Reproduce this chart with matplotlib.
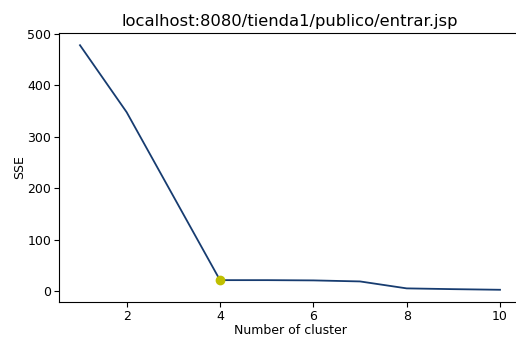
import matplotlib

matplotlib.use("Agg")
import matplotlib.pyplot as plt

# elbow curve: SSE per number of clusters
clusters = [1, 2, 3, 4, 5, 6, 7, 8, 9, 10]
sse = [478, 348, 185, 22, 22, 21.5, 19.5, 6, 4.5, 3.3]
best_k = 4
best_sse = 22

title = "localhost:8080/tienda1/publico/entrar.jsp"

fig = plt.figure(figsize=(5.16, 3.38), dpi=100)
# right spine sits just past the image edge, as in the cropped screenshot
ax = fig.add_axes([0.1143, 0.1065, 0.8954, 0.7959])
ax.plot(clusters, sse, color="#173c70", lw=1.3)
ax.plot(best_k, best_sse, "o", color="#bfbf00", ms=6)
ax.spines["right"].set_visible(False)

ax.set_xticks([2, 4, 6, 8, 10])
ax.set_yticks([0, 100, 200, 300, 400, 500])
ax.tick_params(labelsize=9, pad=2)
ax.set_xlabel("Number of cluster", fontsize=9, labelpad=1)
ax.set_ylabel("SSE", fontsize=9, labelpad=1)
ax.set_title(title, fontsize=11.8, pad=5)

fig.savefig("out.png", dpi=100)
